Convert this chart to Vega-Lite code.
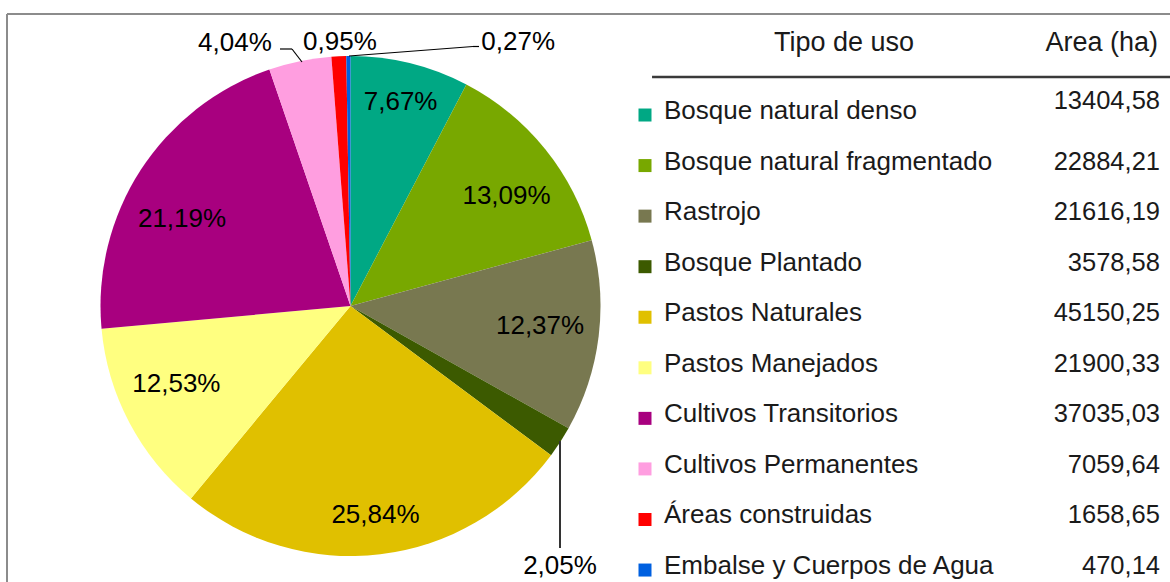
{
  "$schema": "https://vega.github.io/schema/vega-lite/v6.json",
  "width": 1170,
  "height": 582,
  "autosize": {"type": "none"},
  "padding": 0,
  "background": "white",
  "config": {
    "view": {"stroke": null},
    "locale": {"number": {"decimal": ",", "thousands": ".", "grouping": [3], "currency": ["", ""]}},
    "text": {"font": "Liberation Sans", "color": "#000000"}
  },
  "data": {
    "values": [
      {"orden": 1, "tipo": "Bosque natural denso", "area": 13404.58, "pct": 0.0767},
      {"orden": 2, "tipo": "Bosque natural fragmentado", "area": 22884.21, "pct": 0.1309},
      {"orden": 3, "tipo": "Rastrojo", "area": 21616.19, "pct": 0.1237},
      {"orden": 4, "tipo": "Bosque Plantado", "area": 3578.58, "pct": 0.0205},
      {"orden": 5, "tipo": "Pastos Naturales", "area": 45150.25, "pct": 0.2584},
      {"orden": 6, "tipo": "Pastos Manejados", "area": 21900.33, "pct": 0.1253},
      {"orden": 7, "tipo": "Cultivos Transitorios", "area": 37035.03, "pct": 0.2119},
      {"orden": 8, "tipo": "Cultivos Permanentes", "area": 7059.64, "pct": 0.0404},
      {"orden": 9, "tipo": "Áreas construidas", "area": 1658.65, "pct": 0.0095},
      {"orden": 10, "tipo": "Embalse y Cuerpos de Agua", "area": 470.14, "pct": 0.0027}
    ]
  },
  "resolve": {"scale": {"x": "independent", "y": "independent"}},
  "layer": [
    {
      "mark": {"type": "arc", "outerRadius": 250},
      "encoding": {
        "theta": {"field": "area", "type": "quantitative", "stack": true},
        "order": {"field": "orden", "type": "quantitative"},
        "color": {"field": "tipo", "type": "nominal", "legend": null,
          "scale": {"domain": ["Bosque natural denso", "Bosque natural fragmentado", "Rastrojo", "Bosque Plantado", "Pastos Naturales", "Pastos Manejados", "Cultivos Transitorios", "Cultivos Permanentes", "Áreas construidas", "Embalse y Cuerpos de Agua"],
            "range": ["#00a884", "#78a800", "#787850", "#3c5a00", "#e0c000", "#ffff80", "#a8007f", "#ff9ee0", "#ff0000", "#0060e0"]}},
        "x": {"datum": 0.29957, "type": "quantitative", "scale": {"domain": [0, 1], "nice": false, "zero": false}, "axis": null},
        "y": {"datum": 0.52577, "type": "quantitative", "scale": {"domain": [0, 1], "nice": false, "zero": false, "reverse": true}, "axis": null}
      }
    },
    {
      "mark": {"type": "text", "radius": 210, "fontSize": 26},
      "encoding": {
        "theta": {"field": "area", "type": "quantitative", "stack": true},
        "order": {"field": "orden", "type": "quantitative"},
        "text": {"field": "pct", "type": "quantitative", "format": ".2%"},
        "opacity": {"condition": {"test": "datum.orden == 1 || datum.orden == 5", "value": 1}, "value": 0},
        "x": {"datum": 0.29957, "type": "quantitative", "scale": {"domain": [0, 1], "nice": false, "zero": false}, "axis": null},
        "y": {"datum": 0.52577, "type": "quantitative", "scale": {"domain": [0, 1], "nice": false, "zero": false, "reverse": true}, "axis": null}
      }
    },
    {
      "mark": {"type": "text", "radius": 190, "fontSize": 26, "dx": 8, "dy": 9},
      "encoding": {
        "theta": {"field": "area", "type": "quantitative", "stack": true},
        "order": {"field": "orden", "type": "quantitative"},
        "text": {"field": "pct", "type": "quantitative", "format": ".2%"},
        "opacity": {"condition": {"test": "datum.orden == 2", "value": 1}, "value": 0},
        "x": {"datum": 0.29957, "type": "quantitative", "scale": {"domain": [0, 1], "nice": false, "zero": false}, "axis": null},
        "y": {"datum": 0.52577, "type": "quantitative", "scale": {"domain": [0, 1], "nice": false, "zero": false, "reverse": true}, "axis": null}
      }
    },
    {
      "mark": {"type": "text", "radius": 190, "fontSize": 26, "dx": 1, "dy": -3},
      "encoding": {
        "theta": {"field": "area", "type": "quantitative", "stack": true},
        "order": {"field": "orden", "type": "quantitative"},
        "text": {"field": "pct", "type": "quantitative", "format": ".2%"},
        "opacity": {"condition": {"test": "datum.orden == 3", "value": 1}, "value": 0},
        "x": {"datum": 0.29957, "type": "quantitative", "scale": {"domain": [0, 1], "nice": false, "zero": false}, "axis": null},
        "y": {"datum": 0.52577, "type": "quantitative", "scale": {"domain": [0, 1], "nice": false, "zero": false, "reverse": true}, "axis": null}
      }
    },
    {
      "mark": {"type": "text", "radius": 190, "fontSize": 26, "dx": -6, "dy": -11},
      "encoding": {
        "theta": {"field": "area", "type": "quantitative", "stack": true},
        "order": {"field": "orden", "type": "quantitative"},
        "text": {"field": "pct", "type": "quantitative", "format": ".2%"},
        "opacity": {"condition": {"test": "datum.orden == 6", "value": 1}, "value": 0},
        "x": {"datum": 0.29957, "type": "quantitative", "scale": {"domain": [0, 1], "nice": false, "zero": false}, "axis": null},
        "y": {"datum": 0.52577, "type": "quantitative", "scale": {"domain": [0, 1], "nice": false, "zero": false, "reverse": true}, "axis": null}
      }
    },
    {
      "mark": {"type": "text", "radius": 190, "fontSize": 26, "dx": -9, "dy": 16},
      "encoding": {
        "theta": {"field": "area", "type": "quantitative", "stack": true},
        "order": {"field": "orden", "type": "quantitative"},
        "text": {"field": "pct", "type": "quantitative", "format": ".2%"},
        "opacity": {"condition": {"test": "datum.orden == 7", "value": 1}, "value": 0},
        "x": {"datum": 0.29957, "type": "quantitative", "scale": {"domain": [0, 1], "nice": false, "zero": false}, "axis": null},
        "y": {"datum": 0.52577, "type": "quantitative", "scale": {"domain": [0, 1], "nice": false, "zero": false, "reverse": true}, "axis": null}
      }
    },
    {
      "mark": {"type": "text", "radius": 270, "fontSize": 26, "dx": -17, "dy": 113},
      "encoding": {
        "theta": {"field": "area", "type": "quantitative", "stack": true},
        "order": {"field": "orden", "type": "quantitative"},
        "text": {"field": "pct", "type": "quantitative", "format": ".2%"},
        "opacity": {"condition": {"test": "datum.orden == 4", "value": 1}, "value": 0},
        "x": {"datum": 0.29957, "type": "quantitative", "scale": {"domain": [0, 1], "nice": false, "zero": false}, "axis": null},
        "y": {"datum": 0.52577, "type": "quantitative", "scale": {"domain": [0, 1], "nice": false, "zero": false, "reverse": true}, "axis": null}
      }
    },
    {
      "mark": {"type": "text", "radius": 270, "fontSize": 26, "dx": -61, "dy": 1},
      "encoding": {
        "theta": {"field": "area", "type": "quantitative", "stack": true},
        "order": {"field": "orden", "type": "quantitative"},
        "text": {"field": "pct", "type": "quantitative", "format": ".2%"},
        "opacity": {"condition": {"test": "datum.orden == 8", "value": 1}, "value": 0},
        "x": {"datum": 0.29957, "type": "quantitative", "scale": {"domain": [0, 1], "nice": false, "zero": false}, "axis": null},
        "y": {"datum": 0.52577, "type": "quantitative", "scale": {"domain": [0, 1], "nice": false, "zero": false, "reverse": true}, "axis": null}
      }
    },
    {
      "mark": {"type": "text", "radius": 270, "fontSize": 26, "dx": 2, "dy": 6},
      "encoding": {
        "theta": {"field": "area", "type": "quantitative", "stack": true},
        "order": {"field": "orden", "type": "quantitative"},
        "text": {"field": "pct", "type": "quantitative", "format": ".2%"},
        "opacity": {"condition": {"test": "datum.orden == 9", "value": 1}, "value": 0},
        "x": {"datum": 0.29957, "type": "quantitative", "scale": {"domain": [0, 1], "nice": false, "zero": false}, "axis": null},
        "y": {"datum": 0.52577, "type": "quantitative", "scale": {"domain": [0, 1], "nice": false, "zero": false, "reverse": true}, "axis": null}
      }
    },
    {
      "mark": {"type": "text", "radius": 270, "fontSize": 26, "dx": 170, "dy": 6},
      "encoding": {
        "theta": {"field": "area", "type": "quantitative", "stack": true},
        "order": {"field": "orden", "type": "quantitative"},
        "text": {"field": "pct", "type": "quantitative", "format": ".2%"},
        "opacity": {"condition": {"test": "datum.orden == 10", "value": 1}, "value": 0},
        "x": {"datum": 0.29957, "type": "quantitative", "scale": {"domain": [0, 1], "nice": false, "zero": false}, "axis": null},
        "y": {"datum": 0.52577, "type": "quantitative", "scale": {"domain": [0, 1], "nice": false, "zero": false, "reverse": true}, "axis": null}
      }
    },
    {
      "data": {"values": [{}]},
      "mark": {"type": "rule", "color": "#000000", "strokeWidth": 1.2},
      "encoding": {
        "x": {"datum": 0.23932, "type": "quantitative", "scale": {"domain": [0, 1], "nice": false, "zero": false}, "axis": null},
        "x2": {"datum": 0.24957},
        "y": {"datum": 0.08419, "type": "quantitative", "scale": {"domain": [0, 1], "nice": false, "zero": false, "reverse": true}, "axis": null},
        "y2": {"datum": 0.08419}
      }
    },
    {
      "data": {"values": [{}]},
      "mark": {"type": "rule", "color": "#000000", "strokeWidth": 1.2},
      "encoding": {
        "x": {"datum": 0.24957, "type": "quantitative", "scale": {"domain": [0, 1], "nice": false, "zero": false}, "axis": null},
        "x2": {"datum": 0.25812},
        "y": {"datum": 0.08419, "type": "quantitative", "scale": {"domain": [0, 1], "nice": false, "zero": false, "reverse": true}, "axis": null},
        "y2": {"datum": 0.10653}
      }
    },
    {
      "data": {"values": [{}]},
      "mark": {"type": "rule", "color": "#000000", "strokeWidth": 1.2},
      "encoding": {
        "x": {"datum": 0.29829, "type": "quantitative", "scale": {"domain": [0, 1], "nice": false, "zero": false}, "axis": null},
        "x2": {"datum": 0.40427},
        "y": {"datum": 0.09622, "type": "quantitative", "scale": {"domain": [0, 1], "nice": false, "zero": false, "reverse": true}, "axis": null},
        "y2": {"datum": 0.0799}
      }
    },
    {
      "data": {"values": [{}]},
      "mark": {"type": "rule", "color": "#000000", "strokeWidth": 1.2},
      "encoding": {
        "x": {"datum": 0.40427, "type": "quantitative", "scale": {"domain": [0, 1], "nice": false, "zero": false}, "axis": null},
        "x2": {"datum": 0.4094},
        "y": {"datum": 0.0799, "type": "quantitative", "scale": {"domain": [0, 1], "nice": false, "zero": false, "reverse": true}, "axis": null},
        "y2": {"datum": 0.0799}
      }
    },
    {
      "data": {"values": [{}]},
      "mark": {"type": "rule", "color": "#333333", "strokeWidth": 2},
      "encoding": {
        "x": {"datum": 0.47863, "type": "quantitative", "scale": {"domain": [0, 1], "nice": false, "zero": false}, "axis": null},
        "y": {"datum": 0.75773, "type": "quantitative", "scale": {"domain": [0, 1], "nice": false, "zero": false, "reverse": true}, "axis": null},
        "y2": {"datum": 0.94158}
      }
    },
    {
      "data": {"values": [{}]},
      "mark": {"type": "rule", "color": "#8c8c8c", "strokeWidth": 2},
      "encoding": {
        "x": {"datum": 0.00598, "type": "quantitative", "scale": {"domain": [0, 1], "nice": false, "zero": false}, "axis": null},
        "x2": {"datum": 1},
        "y": {"datum": 0.02405, "type": "quantitative", "scale": {"domain": [0, 1], "nice": false, "zero": false, "reverse": true}, "axis": null}
      }
    },
    {
      "data": {"values": [{}]},
      "mark": {"type": "rule", "color": "#8c8c8c", "strokeWidth": 2},
      "encoding": {
        "x": {"datum": 0.00598, "type": "quantitative", "scale": {"domain": [0, 1], "nice": false, "zero": false}, "axis": null},
        "y": {"datum": 0.02405, "type": "quantitative", "scale": {"domain": [0, 1], "nice": false, "zero": false, "reverse": true}, "axis": null},
        "y2": {"datum": 1}
      }
    },
    {
      "data": {"values": [{}]},
      "mark": {"type": "rule", "color": "#3a3a3a", "strokeWidth": 2.5},
      "encoding": {
        "x": {"datum": 0.5573, "type": "quantitative", "scale": {"domain": [0, 1], "nice": false, "zero": false}, "axis": null},
        "x2": {"datum": 1},
        "y": {"datum": 0.1323, "type": "quantitative", "scale": {"domain": [0, 1], "nice": false, "zero": false, "reverse": true}, "axis": null}
      }
    },
    {
      "data": {"values": [{"h": "Tipo de uso"}]},
      "mark": {"type": "text", "fontSize": 27, "align": "center", "baseline": "middle", "color": "#1a1a1a"},
      "encoding": {
        "text": {"field": "h"},
        "x": {"datum": 0.7214, "type": "quantitative", "scale": {"domain": [0, 1], "nice": false, "zero": false}, "axis": null},
        "y": {"datum": 0.07388, "type": "quantitative", "scale": {"domain": [0, 1], "nice": false, "zero": false, "reverse": true}, "axis": null}
      }
    },
    {
      "data": {"values": [{"h": "Area (ha)"}]},
      "mark": {"type": "text", "fontSize": 27, "align": "right", "baseline": "middle", "color": "#1a1a1a"},
      "encoding": {
        "text": {"field": "h"},
        "x": {"datum": 0.98974, "type": "quantitative", "scale": {"domain": [0, 1], "nice": false, "zero": false}, "axis": null},
        "y": {"datum": 0.07388, "type": "quantitative", "scale": {"domain": [0, 1], "nice": false, "zero": false, "reverse": true}, "axis": null}
      }
    },
    {
      "mark": {"type": "point", "shape": "square", "filled": true, "size": 169, "opacity": 1, "yOffset": 4},
      "encoding": {
        "color": {"field": "tipo", "type": "nominal", "legend": null},
        "x": {"datum": 0.55128, "type": "quantitative", "scale": {"domain": [0, 1], "nice": false, "zero": false}, "axis": null},
        "y": {"field": "tipo", "type": "nominal", "axis": null,
          "scale": {"type": "band", "paddingInner": 0.3687, "paddingOuter": 0.94, "align": 1,
            "domain": ["Bosque natural denso", "Bosque natural fragmentado", "Rastrojo", "Bosque Plantado", "Pastos Naturales", "Pastos Manejados", "Cultivos Transitorios", "Cultivos Permanentes", "Áreas construidas", "Embalse y Cuerpos de Agua"]}}
      }
    },
    {
      "mark": {"type": "text", "fontSize": 26, "align": "left", "baseline": "middle", "color": "#1a1a1a"},
      "encoding": {
        "text": {"field": "tipo"},
        "x": {"datum": 0.56752, "type": "quantitative", "scale": {"domain": [0, 1], "nice": false, "zero": false}, "axis": null},
        "y": {"field": "tipo", "type": "nominal", "axis": null,
          "scale": {"type": "band", "paddingInner": 0.3687, "paddingOuter": 0.94, "align": 1,
            "domain": ["Bosque natural denso", "Bosque natural fragmentado", "Rastrojo", "Bosque Plantado", "Pastos Naturales", "Pastos Manejados", "Cultivos Transitorios", "Cultivos Permanentes", "Áreas construidas", "Embalse y Cuerpos de Agua"]}}
      }
    },
    {
      "mark": {"type": "text", "fontSize": 25.5, "align": "right", "baseline": "middle", "color": "#1a1a1a"},
      "encoding": {
        "text": {"field": "area", "type": "quantitative", "format": ".2f"},
        "opacity": {"condition": {"test": "datum.orden != 1", "value": 1}, "value": 0},
        "x": {"datum": 0.99145, "type": "quantitative", "scale": {"domain": [0, 1], "nice": false, "zero": false}, "axis": null},
        "y": {"field": "tipo", "type": "nominal", "axis": null,
          "scale": {"type": "band", "paddingInner": 0.3687, "paddingOuter": 0.94, "align": 1,
            "domain": ["Bosque natural denso", "Bosque natural fragmentado", "Rastrojo", "Bosque Plantado", "Pastos Naturales", "Pastos Manejados", "Cultivos Transitorios", "Cultivos Permanentes", "Áreas construidas", "Embalse y Cuerpos de Agua"]}}
      }
    },
    {
      "mark": {"type": "text", "fontSize": 25.5, "align": "right", "baseline": "middle", "color": "#1a1a1a", "dy": -10},
      "encoding": {
        "text": {"field": "area", "type": "quantitative", "format": ".2f"},
        "opacity": {"condition": {"test": "datum.orden == 1", "value": 1}, "value": 0},
        "x": {"datum": 0.99145, "type": "quantitative", "scale": {"domain": [0, 1], "nice": false, "zero": false}, "axis": null},
        "y": {"field": "tipo", "type": "nominal", "axis": null,
          "scale": {"type": "band", "paddingInner": 0.3687, "paddingOuter": 0.94, "align": 1,
            "domain": ["Bosque natural denso", "Bosque natural fragmentado", "Rastrojo", "Bosque Plantado", "Pastos Naturales", "Pastos Manejados", "Cultivos Transitorios", "Cultivos Permanentes", "Áreas construidas", "Embalse y Cuerpos de Agua"]}}
      }
    }
  ]
}
